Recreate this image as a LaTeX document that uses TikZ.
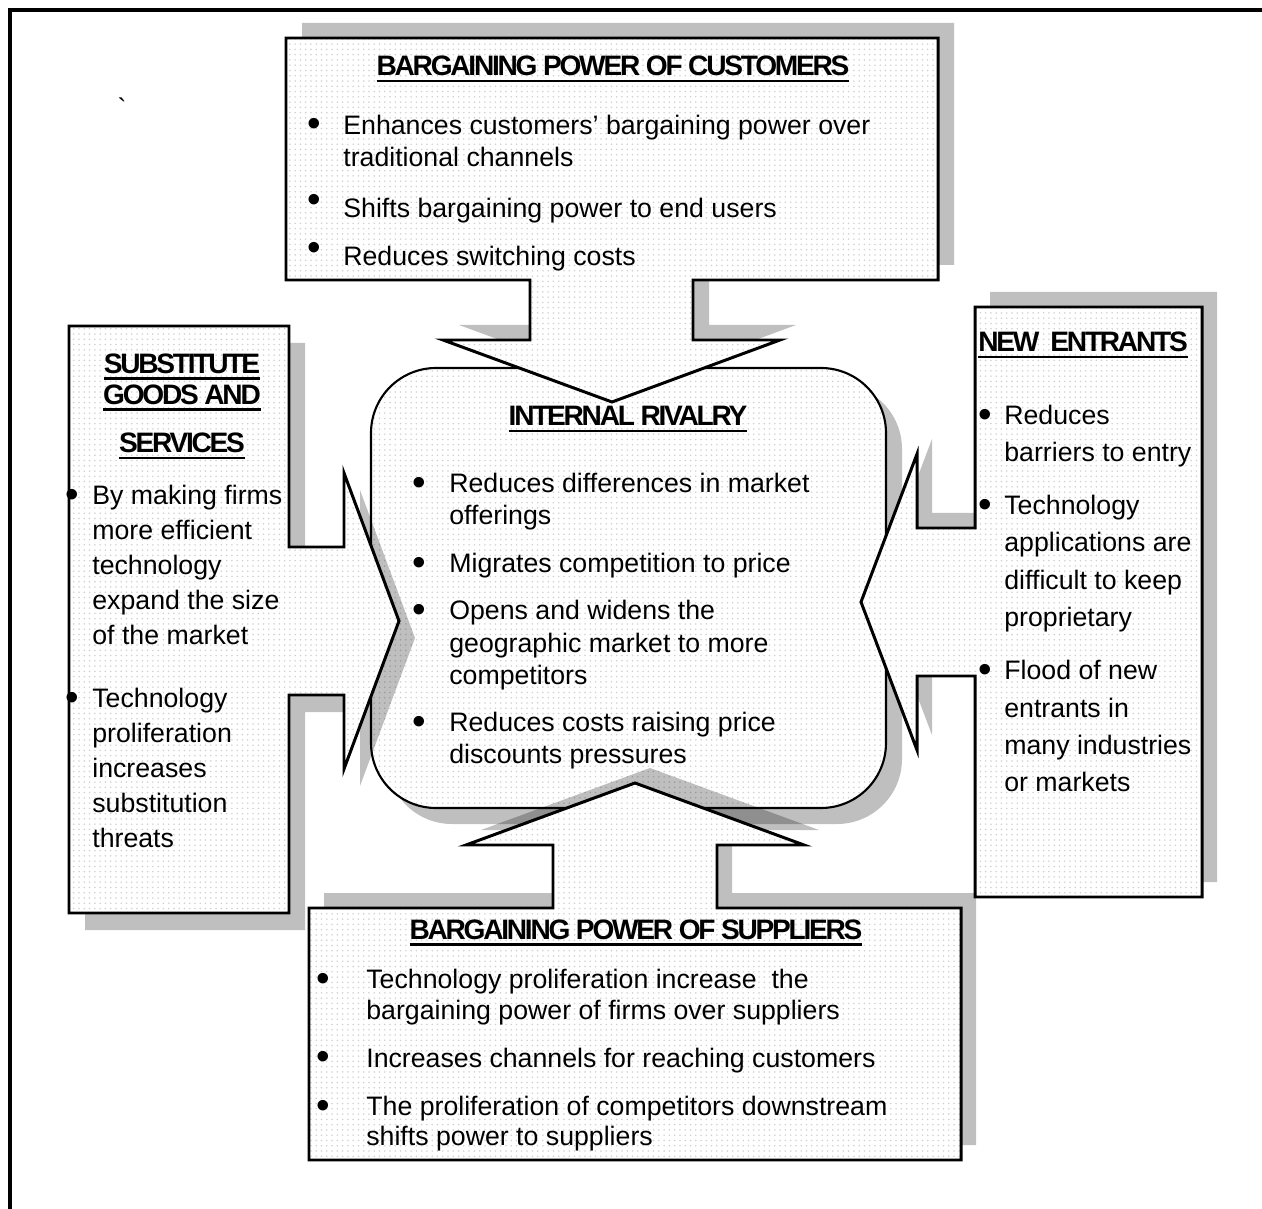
\documentclass[tikz,border=0pt]{standalone}
\usepackage{fontspec}
\setmainfont{Liberation Sans}
\usepackage{tikz}
\usetikzlibrary{patterns}
\newcommand{\bodyfont}[1]{\fontsize{15.2}{#1}\selectfont}
\newcommand{\headfont}{\fontsize{16}{17.6}\selectfont\bfseries\addfontfeature{LetterSpace=-8}}
\newcommand{\uhead}[1]{\setbox0\hbox{#1}\rlap{\rule[-3.7pt]{\wd0}{1.6pt}}\box0}
\newcommand{\lnstrut}{\vrule height 13pt depth 0pt width 0pt}
\newcommand{\bul}[2][-1.6pt]{\llap{\raisebox{#1}{\scalebox{1.45}{\textbullet}}\hspace{#2}}}
\tikzset{
    dropshade/.style={fill=black, fill opacity=0.25, draw=none},
    panel/.style={draw=black, line width=1.7pt, preaction={fill=white}, pattern=dots, pattern color=black!18},
    itemtext/.style={anchor=north west, inner sep=0pt, align=left},
    heading/.style={anchor=base, inner sep=0pt, font=\headfont},
    rivalry-path/.style={insert path={[rounded corners=1.3cm] (371,368) rectangle (886,808)}},
    customers-path/.style={insert path={(286,38) -- (938,38) -- (938,280) -- (693,280) -- (693,340) -- (780,340) -- (612,402) -- (443,340) -- (530,340) -- (530,280) -- (286,280) -- cycle}},
    substitutes-path/.style={insert path={(69,326) -- (289,326) -- (289,547) -- (344,547) -- (344,473) -- (399,621) -- (344,769) -- (344,695) -- (289,695) -- (289,913) -- (69,913) -- cycle}},
    entrants-path/.style={insert path={(975,307) -- (1202,307) -- (1202,897) -- (975,897) -- (975,676) -- (917,676) -- (917,750) -- (861,602) -- (917,454) -- (917,528) -- (975,528) -- cycle}},
    suppliers-path/.style={insert path={(309,908) -- (553,908) -- (553,845) -- (466,845) -- (635,783) -- (804,845) -- (717,845) -- (717,908) -- (961,908) -- (961,1160) -- (309,1160) -- cycle}}
}

\begin{document}
\begin{tikzpicture}[x=0.02cm, y=-0.02cm]
    \useasboundingbox (0,0) rectangle (1262,1209);
    \draw[line width=1.9pt] (10,1209) -- (10,10) -- (1262,10);

    % centre box first, the callouts lie over it
    \path[dropshade, shift={(16,16)}, rivalry-path];
    \path[panel, line width=1.2pt, rivalry-path];
    \path[dropshade, shift={(16,-15)}, customers-path];
    \path[panel, customers-path];
    \path[dropshade, shift={(16,17)}, substitutes-path];
    \path[panel, substitutes-path];
    \path[dropshade, shift={(15,-15)}, entrants-path];
    \path[panel, entrants-path];
    \path[dropshade, shift={(15,-15)}, suppliers-path];
    \path[panel, suppliers-path];

    \node[font=\bodyfont{18}, inner sep=0pt] (tick) at (122,108) {\textasciigrave};

    \node[heading] (customers-title) at (613,76) {\uhead{BARGAINING POWER OF CUSTOMERS}};
    \node[itemtext, font=\bodyfont{18.2}] (customers-text) at (343,111) {%
        \lnstrut\bul{12.8pt}Enhances customers’ bargaining power over\\
        traditional channels\\[10.8pt]
        \bul[2.4pt]{12.8pt}Shifts bargaining power to end users\\[9.1pt]
        \bul[2.4pt]{12.8pt}Reduces switching costs};

    \node[heading, anchor=north, align=center] (substitutes-title) at (182,350) {%
        \lnstrut\uhead{SUBSTITUTE}\\
        \uhead{GOODS AND}\\[10.2pt]
        \uhead{SERVICES}};
    \node[itemtext, font=\bodyfont{19.9}] (substitutes-text) at (92,481) {%
        \lnstrut\bul{7.3pt}By making firms\\
        more efficient\\
        technology\\
        expand the size\\
        of the market\\[16.5pt]
        \bul{7.3pt}Technology\\
        proliferation\\
        increases\\
        substitution\\
        threats};

    \node[heading] (entrants-title) at (1083,352) {\uhead{NEW~~ENTRANTS}};
    \node[itemtext, font=\bodyfont{21.3}] (entrants-text) at (1004,401) {%
        \lnstrut\bul{6.8pt}Reduces\\
        barriers to entry\\[8.8pt]
        \bul{6.8pt}Technology\\
        applications are\\
        difficult to keep\\
        proprietary\\[8.8pt]
        \bul{6.8pt}Flood of new\\
        entrants in\\
        many industries\\
        or markets};

    \node[heading] (rivalry-title) at (628,426) {\uhead{INTERNAL RIVALRY}};
    \node[itemtext, font=\bodyfont{18.5}] (rivalry-text) at (449,469) {%
        \lnstrut\bul{13.4pt}Reduces differences in market\\
        offerings\\[8.8pt]
        \bul{13.4pt}Migrates competition to price\\[8.2pt]
        \bul{13.4pt}Opens and widens the\\
        geographic market to more\\
        competitors\\[8.2pt]
        \bul{13.4pt}Reduces costs raising price\\
        discounts pressures};

    \node[heading] (suppliers-title) at (636,939) {\uhead{BARGAINING POWER OF SUPPLIERS}};
    \node[itemtext, font=\bodyfont{17.6}] (suppliers-text) at (366,965) {%
        \lnstrut\bul{20.8pt}Technology proliferation increase~ the\\
        bargaining power of firms over suppliers\\[9.7pt]
        \bul{20.8pt}Increases channels for reaching customers\\[10.2pt]
        \bul{20.8pt}The proliferation of competitors downstream\\[-0.6pt]
        shifts power to suppliers};
\end{tikzpicture}
\end{document}
